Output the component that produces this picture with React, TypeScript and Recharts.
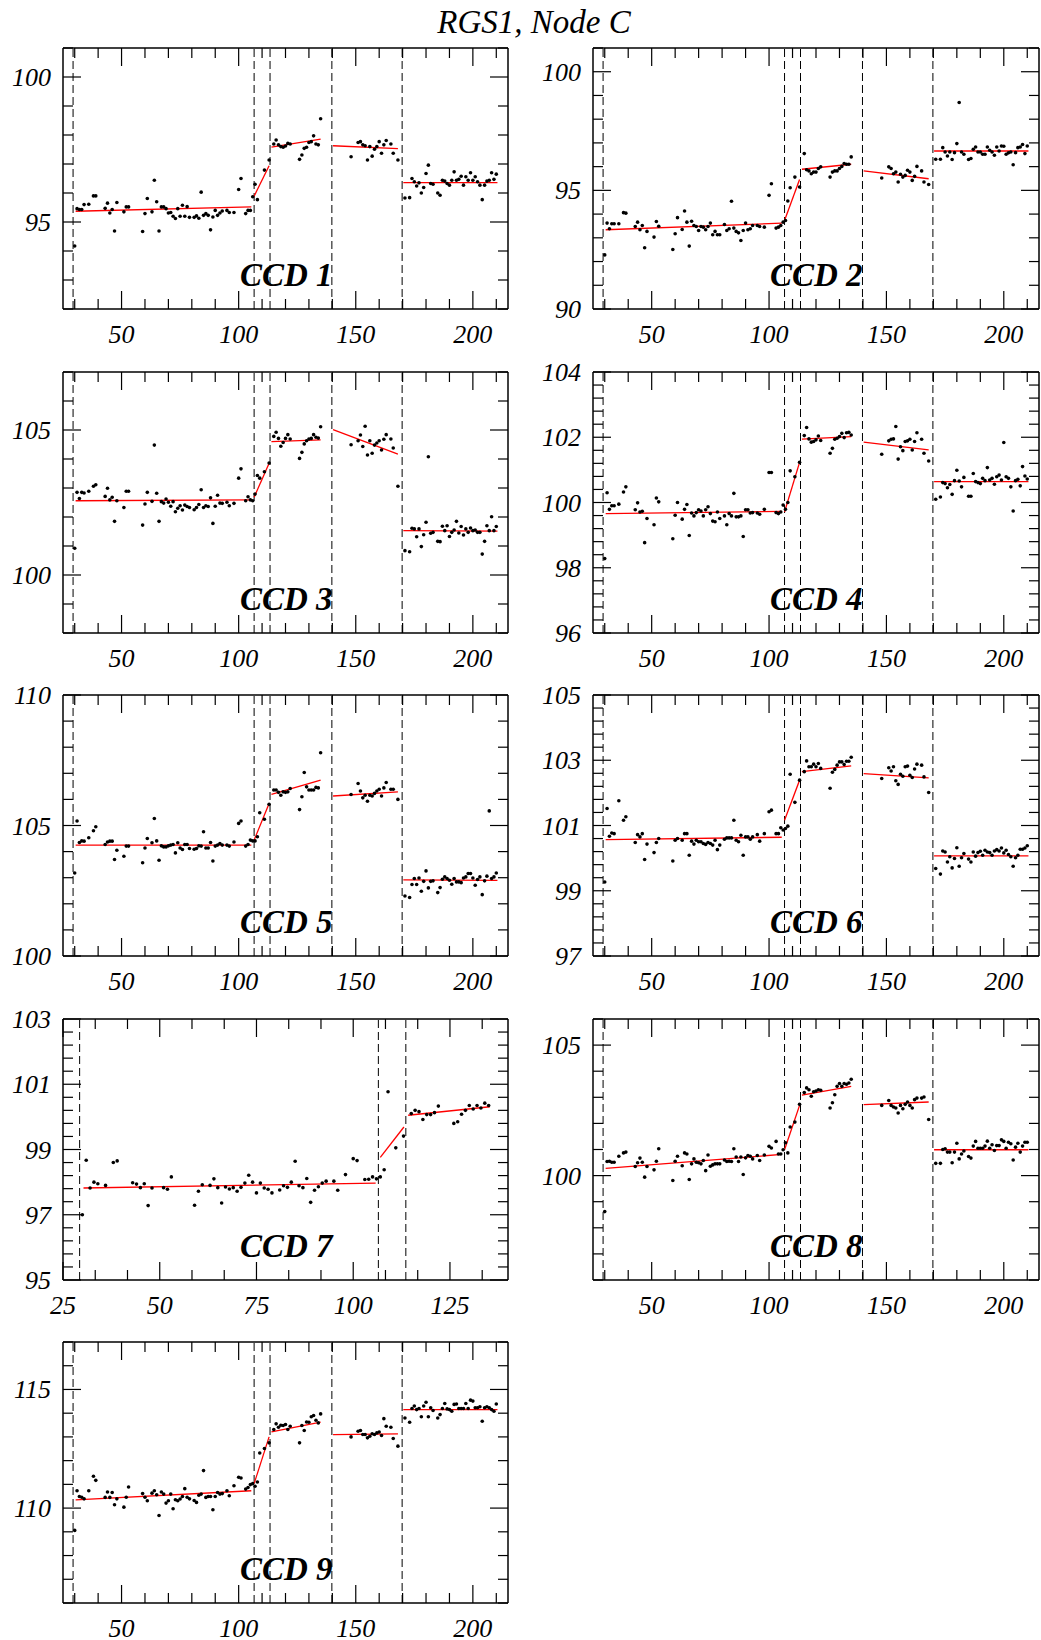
import React from 'react';
import { ComposedChart, Scatter, XAxis, YAxis, ReferenceLine } from 'recharts';

// Shared observation epochs (revolution numbers), grouped by fit segment
const revolutions = [
  30, 31, 32, 33, 34, 36, 38, 39, 43, 44, 45, 46, 47, 48, 51, 52, 53,
  59, 60, 61, 63, 64, 65, 66, 67, 68, 69, 70, 71, 72, 73, 74, 75, 76, 77, 78, 79,
  81, 82, 83, 84, 85, 86, 87, 88, 89, 90, 91, 92, 93,
  95, 96, 98, 100, 101, 103, 104, 105, 106, 107, 108,
  109, 111, 113,
  115, 116, 117, 118, 119, 120, 121, 122, 126, 127, 128, 129, 130, 131, 132, 133, 134, 135,
  148, 151, 152, 153, 154, 155, 156, 157, 158, 159, 160, 161, 162, 163, 165, 166, 168,
  171, 173, 174, 175, 176, 177, 178, 179, 180, 181,
  182, 183, 185, 186, 187, 188, 189, 190,
  191, 192, 193, 194, 195, 196, 197, 198, 199, 200,
  201, 202, 203, 204, 205, 206, 207, 208, 209, 210,
];

const ccd1Values = [
  94.17, 95.46, 95.43, 95.43, 95.6, 95.61, 95.9, 95.9, 95.47, 95.65, 95.31, 95.43, 94.69, 95.67, 95.35, 95.52, 95.52,
  94.67, 95.29, 95.81, 95.35, 96.44, 95.7, 94.69, 95.52, 95.52, 95.46, 95.31, 95.33, 95.2, 95.12, 95.46, 95.2, 95.58, 95.2, 95.53, 95.16,
  95.16, 95.21, 95.13, 96.03, 95.23, 95.29, 95.23, 94.73, 95.17, 95.4, 95.23, 95.31, 95.38,
  95.4, 95.33, 95.33, 96.12, 96.5, 95.29, 95.4, 95.4, 95.87, 96.3, 95.77,
  null, 96.79, 97.14,
  97.69, 97.83, 97.66, 97.6, 97.58, 97.62, 97.71, 97.69, 97.16, 97.31, 97.54, 97.58, 97.74, 97.77, 97.97, 97.69, 97.66, 98.56,
  97.25, 97.74, 97.77, 97.66, 97.63, 97.14, 97.6, 97.27, 97.51, 97.6, 97.77, 97.37, 97.66, 97.81, 97.69, 97.37, 97.14,
  95.83, 95.84, 96.5, 96.39, 96.24, 96.35, 96.0, 96.19, 96.67, 96.96,
  96.33, 96.3, 96.0, 95.92, 96.44, 96.41, 96.33, 96.27,
  96.44, 96.73, 96.44, 96.47, 96.58, 96.27, 96.56, 96.44, 96.7, 96.44,
  96.56, 96.39, 96.27, 95.77, 96.27, 96.41, 96.44, 96.7, 96.47, 96.65,
];

const ccd2Values = [
  92.28, 93.62, 93.38, 93.59, 93.59, 93.59, 94.06, 94.04, 93.48, 93.66, 93.34, 93.52, 92.58, 93.27, 93.03, 93.69, 93.49,
  92.51, 93.17, 93.85, 93.35, 94.13, 93.66, 92.65, 93.7, 93.52, 93.48, 93.31, 93.48, 93.45, 93.34, 93.48, 93.62, 93.13, 93.27, 93.13, 93.13,
  93.56, 93.31, 93.38, 94.54, 93.41, 93.27, 93.21, 92.89, 93.31, 93.62, 93.34, 93.38, 93.52,
  93.52, 93.48, 93.45, 94.79, 95.28, 93.41, 93.45, 93.52, 93.66, 93.73, 94.55,
  95.11, 95.56, 95.14,
  96.55, 95.87, 95.82, 95.7, 95.77, 95.77, 95.92, 95.99, 95.56, 95.77, 95.82, 95.82, 95.92, 96.01, 96.13, 96.1, 96.1, 96.41,
  95.52, 95.99, 95.92, 95.7, 95.77, 95.35, 95.68, 95.56, 95.63, 95.85, 95.77, 95.42, 95.59, 96.01, 95.82, 95.35, 95.25,
  96.31, 96.31, 96.8, 96.62, 96.45, 96.62, 96.3, 96.59, 96.97, 98.7,
  96.62, 96.52, 96.3, 96.34, 96.73, 96.83, 96.62, 96.62,
  96.52, 96.52, 96.83, 96.69, 96.62, 96.48, 96.83, 96.66, 96.87, 96.86,
  96.52, 96.58, 96.62, 96.08, 96.59, 96.8, 96.83, 96.93, 96.55, 96.87,
];

const ccd3Values = [
  100.92, 102.85, 102.64, 102.85, 102.83, 102.89, 103.06, 103.11, 102.71, 102.99, 102.59, 102.68, 101.85, 102.56, 102.33, 102.89, 102.89,
  101.72, 102.45, 102.85, 102.54, 104.48, 102.82, 101.85, 102.53, 102.48, 102.62, 102.51, 102.37, 102.53, 102.18, 102.3, 102.39, 102.24, 102.41, 102.36, 102.33,
  102.25, 102.33, 102.43, 102.94, 102.33, 102.39, 102.36, 102.66, 101.78, 102.37, 102.75, 102.48, 102.47,
  102.51, 102.39, 102.47, 103.34, 103.66, 102.56, 102.7, 102.59, 102.56, 102.79, 103.43,
  103.34, 103.56, 103.86,
  104.78, 104.92, 104.71, 104.44, 104.57, 104.71, 104.84, 104.69, 104.02, 104.23, 104.52, 104.63, 104.69, 104.71, 104.84, 104.75, 104.72, 105.11,
  104.49, 104.63, 104.83, 104.43, 105.13, 104.14, 104.63, 104.2, 104.48, 104.55, 104.63, 104.31, 104.68, 104.84, 104.69, 104.38, 103.06,
  100.84, 100.8, 101.61, 101.59, 101.32, 101.59, 100.98, 101.39, 101.82, 104.08,
  101.44, 101.47, 101.16, 101.15, 101.68, 101.53, 101.7, 101.33,
  101.47, 101.55, 101.85, 101.45, 101.67, 101.38, 101.59, 101.47, 101.62, 101.53,
  101.55, 101.47, 101.47, 100.72, 101.16, 101.7, 101.53, 102.01, 101.53, 101.67,
];

const ccd4Values = [
  98.28, 100.3, 99.79, 99.9, 99.9, 99.95, 100.32, 100.48, 99.78, 99.99, 99.71, 99.73, 98.77, 99.51, 99.32, 100.14, 100.02,
  98.89, 99.61, 100.0, 99.49, 99.79, 99.94, 98.99, 99.68, 99.59, 99.69, 99.78, 99.74, 99.59, 99.78, 99.87, 99.66, 99.43, 99.41, 99.71, 99.51,
  99.59, 99.32, 99.66, 99.59, 100.28, 99.56, 99.56, 99.59, 98.96, 99.78, 99.78, 99.68, 99.69,
  99.68, 99.64, 99.79, 100.92, 100.92, 99.69, 99.66, 99.71, 99.92, 99.79, 100.0,
  100.97, 100.79, 101.23,
  102.05, 102.3, 101.95, 101.85, 101.87, 101.92, 102.04, 101.9, 101.51, 101.66, 101.94, 101.97, 102.02, 102.12, 101.99, 102.14, 102.15, 102.07,
  101.48, 101.89, 101.94, 101.95, 102.33, 101.33, 101.71, 101.59, 101.87, 101.89, 101.94, 101.61, 101.87, 102.14, 101.94, 101.51, 101.27,
  100.1, 100.17, 100.61, 100.58, 100.45, 100.55, 100.25, 100.67, 100.99, 100.66,
  100.48, 100.77, 100.19, 100.19, 100.89, 100.64, 100.61, 100.58,
  100.74, 100.67, 101.07, 100.69, 100.74, 100.56, 100.79, 100.84, 100.69, 101.84,
  100.79, 100.74, 100.48, 99.74, 100.67, 100.71, 100.51, 101.1, 100.81, 100.72,
];

const ccd5Values = [
  103.18, 105.17, 104.35, 104.41, 104.4, 104.53, 104.8, 104.95, 104.27, 104.37, 104.4, 104.4, 103.7, 104.05, 103.82, 104.21, 104.21,
  103.57, 104.14, 104.5, 104.34, 105.27, 104.41, 103.67, 104.22, 104.18, 104.18, 104.22, 104.25, 104.27, 103.95, 104.34, 104.14, 104.08, 104.27, 104.27, 104.12,
  104.09, 104.12, 104.22, 104.21, 104.76, 104.14, 104.14, 104.35, 103.64, 104.21, 104.25, 104.31, 104.25,
  104.25, 104.21, 104.37, 105.08, 105.17, 104.21, 104.27, 104.44, 104.41, 104.41, 104.57,
  105.49, 105.24, 105.81,
  106.36, 106.36, 106.27, 106.16, 106.29, 106.27, 106.29, 106.42, 105.61, 106.1, 107.03, 106.48, 106.36, 106.36, 106.36, 106.46, 106.44, 107.79,
  106.19, 106.61, 106.32, 106.06, 106.16, 105.93, 106.16, 106.13, 106.23, 106.32, 106.39, 106.13, 106.44, 106.65, 106.39, 106.39, 106.0,
  102.3, 102.24, 102.74, 102.97, 102.74, 102.99, 102.48, 102.86, 103.26, 102.61,
  102.86, 102.88, 102.43, 102.62, 102.94, 103.03, 102.97, 102.9,
  102.75, 102.97, 102.84, 102.84, 102.81, 102.99, 103.03, 103.16, 103.16, 102.99,
  102.71, 102.93, 103.03, 102.35, 102.88, 103.06, 105.56, 102.97, 103.03, 103.18,
];

const ccd6Values = [
  99.27, 101.52, 100.67, 100.77, 100.75, 101.76, 101.16, 101.27, 100.48, 100.72, 100.65, 100.75, 99.96, 100.43, 100.17, 100.48, 100.6,
  99.91, 100.55, 100.6, 100.55, 100.75, 100.75, 100.09, 100.52, 100.43, 100.55, 100.5, 100.5, 100.45, 100.42, 100.48, 100.45, 100.4, 100.55, 100.26, 100.4,
  100.58, 100.62, 100.62, 100.62, 101.16, 100.55, 100.5, 100.7, 100.09, 100.65, 100.65, 100.58, 100.65,
  100.72, 100.52, 100.75, 101.42, 101.47, 100.75, 100.75, 100.93, 100.86, 100.91, 100.98,
  102.57, 101.71, 102.39,
  102.65, 102.98, 102.8, 102.8, 102.88, 102.8, 102.9, 102.75, 102.14, 102.63, 102.72, 102.85, 102.95, 102.95, 102.87, 102.97, 102.97, 103.09,
  102.44, 102.77, 102.67, 102.8, 102.37, 102.26, 102.57, 102.51, 102.8, 102.82, 102.54, 102.47, 102.73, 102.88, 102.85, 102.49, 102.01,
  99.68, 99.51, 100.22, 100.19, 99.88, 100.04, 99.7, 99.99, 100.32, 99.75,
  100.01, 100.14, 99.97, 99.88, 100.19, 100.06, 100.17, 100.21,
  100.09, 100.24, 100.19, 100.17, 100.09, 100.22, 100.26, 100.22, 100.31, 100.16,
  100.24, 100.11, 100.04, 99.75, 100.01, 100.09, 100.27, 100.27, 100.31, 100.38,
];

const ccd7Values = [
  97.0, 98.67, 97.82, 98.0, 97.95, 97.9, 98.6, 98.65, 97.98, 97.94, 97.83, 97.95, 97.28, 97.82, 97.83, 97.78, 98.16,
  97.29, 97.72, 97.92, 97.9, 98.1, 97.83, 97.36, 97.85, 97.79, 97.83, 97.72, 97.84, 97.97, 98.21, 98.0, 97.67, 97.97, 97.82, 97.78, 97.67,
  97.76, 97.89, 97.84, 98.0, 98.64, 97.89, 97.83, 98.11, 97.38, 97.75, 97.86, 97.97, 98.03,
  98.03, 97.75, 98.23, 98.72, 98.66, 98.08, 98.09, 98.16, 98.1, 98.16, 98.38,
  100.77, 99.05, 99.41,
  100.1, 100.2, 100.16, 99.92, 100.07, 100.07, 100.13, 100.33, 99.8, 99.85, 100.08, 100.2, 100.35, 100.24, 100.35, 100.27, 100.42, 100.35,
];

const ccd8Values = [
  98.62, 100.54, 100.55, 100.51, 100.51, 100.74, 100.87, 100.9, 100.35, 100.49, 100.67, 100.51, 99.94, 100.35, 100.22, 100.55, 101.03,
  99.81, 100.55, 100.74, 100.38, 100.87, 100.83, 99.85, 100.45, 100.64, 100.51, 100.49, 100.45, 100.58, 100.19, 100.79, 100.36, 100.41, 100.45, 100.45, 100.45,
  100.6, 100.54, 100.55, 100.54, 101.03, 100.71, 100.54, 100.71, 100.04, 100.68, 100.77, 100.74, 100.64,
  100.77, 100.58, 100.79, 101.12, 101.06, 101.31, 100.83, 100.83, 100.99, 101.26, 100.87,
  101.86, 102.05, 102.73,
  103.18, 103.36, 103.29, 103.04, 103.21, 103.24, 103.29, 103.27, 102.59, 102.79, 103.1, 103.42, 103.53, 103.42, 103.53, 103.5, 103.55, 103.69,
  102.69, 102.88, 102.69, 102.63, 102.59, 102.4, 102.69, 102.56, 102.73, 102.82, 102.69, 102.59, 102.91, 102.97, 102.97, 103.01, 102.15,
  100.47, 100.47, 101.0, 101.03, 100.9, 100.9, 100.49, 100.9, 101.24, 100.64,
  100.83, 100.94, 100.73, 100.67, 101.13, 101.31, 101.05, 101.05,
  101.05, 101.13, 101.32, 101.05, 101.18, 100.96, 101.15, 101.15, 101.37, 101.31,
  101.05, 101.28, 101.22, 100.6, 101.09, 101.24, 100.9, 101.13, 101.28, 101.28,
];

const ccd9Values = [
  109.06, 110.73, 110.49, 110.46, 110.39, 110.73, 111.34, 111.17, 110.45, 110.68, 110.45, 110.66, 110.14, 110.39, 110.04, 110.46, 110.89,
  110.61, 110.46, 110.31, 110.63, 110.73, 110.56, 109.69, 110.68, 110.59, 110.21, 110.31, 110.59, 109.97, 110.35, 110.31, 110.38, 110.49, 110.82, 110.46, 110.39,
  110.32, 110.24, 110.54, 110.59, 111.58, 110.45, 110.49, 110.49, 109.93, 110.49, 110.66, 110.59, 110.61,
  110.73, 110.52, 110.94, 111.3, 111.27, 110.8, 110.87, 110.99, 111.03, 110.92, 111.1,
  112.32, 112.51, 112.75,
  113.31, 113.55, 113.41, 113.49, 113.48, 113.52, 113.31, 113.45, 112.75, 113.48, 113.27, 113.63, 113.62, 113.85, 113.9, 113.7, 113.59, 113.97,
  113.0, 113.24, 113.27, 113.1, 113.1, 112.96, 113.03, 113.13, 113.1, 113.17, 113.21, 113.06, 113.77, 113.45, 113.41, 112.93, 112.61,
  113.8, 113.62, 114.2, 114.3, 114.15, 114.2, 113.85, 114.3, 114.46, 113.85,
  114.23, 114.11, 113.8, 113.94, 114.2, 114.41, 114.18, 114.15,
  114.08, 114.37, 114.39, 114.2, 114.2, 114.2, 114.41, 114.2, 114.55, 114.51,
  114.23, 114.23, 114.27, 113.66, 114.23, 114.27, 114.23, 114.15, 114.08, 114.39,
];

// Linear fit segments: x extents (shared) and [start y, end y] per CCD
const fitSpans = [[30.4, 105.4], [106.6, 113], [114, 135], [140.3, 168], [170.3, 210.5]];
const ccd7FitSpans = [[30.3, 105.8], [107, 113.1], [114.2, 135.3]];
const ccd1Fits = [[95.37, 95.52], [95.89, 96.94], [97.58, 97.86], [97.63, 97.53], [96.36, 96.36]];
const ccd2Fits = [[93.34, 93.62], [93.73, 95.46], [95.89, 96.1], [95.82, 95.49], [96.66, 96.66]];
const ccd3Fits = [[102.56, 102.59], [102.68, 103.85], [104.6, 104.66], [105.01, 104.17], [101.53, 101.51]];
const ccd4Fits = [[99.66, 99.73], [99.71, 101.23], [101.94, 102.02], [101.85, 101.61], [100.64, 100.64]];
const ccd5Fits = [[104.25, 104.25], [104.44, 105.84], [106.19, 106.74], [106.13, 106.29], [102.92, 102.9]];
const ccd6Fits = [[100.57, 100.64], [101.16, 102.39], [102.65, 102.83], [102.59, 102.46], [100.07, 100.07]];
const ccd7Fits = [[97.82, 97.97], [98.76, 99.69], [100.05, 100.31]];
const ccd8Fits = [[100.28, 100.81], [100.99, 102.69], [103.08, 103.42], [102.72, 102.82], [100.99, 100.99]];
const ccd9Fits = [[110.35, 110.73], [111.03, 113.0], [113.21, 113.62], [113.1, 113.13], [114.15, 114.15]];

// Boundaries (dashed vertical lines)
const boundaries = [29.3, 106.6, 113.4, 139.8, 169.8];
const ccd7Boundaries = [29.3, 106.5, 113.6];

// Tick labels
const xMajorWide = [50, 100, 150, 200];
const xMajorCcd7 = [25, 50, 75, 100, 125];

const title = 'RGS1, Node C';

const FONT = "'Liberation Serif', 'DejaVu Serif', 'Times New Roman', serif";
const ROW_TOPS = [48, 372, 695, 1019, 1342];
const COL_LEFTS = [63, 593];
const COL_WIDTHS = [445, 446];
const PLOT_H = 261;
const MAJOR_LEN = 18;
const MINOR_LEN = 10;

function tickRange(start, end, step) {
  const out = [];
  for (let i = 0; ; i++) {
    const v = start + i * step;
    if (v > end + 1e-6) break;
    out.push(Math.round(v * 10000) / 10000);
  }
  return out;
}

const isMajor = (v, majors) => majors.some((m) => Math.abs(m - v) < 1e-6);

const panels = [
  { label: 'CCD 1', vals: ccd1Values, fits: ccd1Fits, spans: fitSpans, bounds: boundaries, xDomain: [25, 215], xMajor: xMajorWide, xTickStart: 30, xStep: 10, yDomain: [92, 101], yMajor: [95, 100], yStep: 1, row: 0, col: 0 },
  { label: 'CCD 2', vals: ccd2Values, fits: ccd2Fits, spans: fitSpans, bounds: boundaries, xDomain: [25, 215], xMajor: xMajorWide, xTickStart: 30, xStep: 10, yDomain: [90, 101], yMajor: [90, 95, 100], yStep: 1, row: 0, col: 1 },
  { label: 'CCD 3', vals: ccd3Values, fits: ccd3Fits, spans: fitSpans, bounds: boundaries, xDomain: [25, 215], xMajor: xMajorWide, xTickStart: 30, xStep: 10, yDomain: [98, 107], yMajor: [100, 105], yStep: 1, row: 1, col: 0 },
  { label: 'CCD 4', vals: ccd4Values, fits: ccd4Fits, spans: fitSpans, bounds: boundaries, xDomain: [25, 215], xMajor: xMajorWide, xTickStart: 30, xStep: 10, yDomain: [96, 104], yMajor: [96, 98, 100, 102, 104], yStep: 0.4, row: 1, col: 1 },
  { label: 'CCD 5', vals: ccd5Values, fits: ccd5Fits, spans: fitSpans, bounds: boundaries, xDomain: [25, 215], xMajor: xMajorWide, xTickStart: 30, xStep: 10, yDomain: [100, 110], yMajor: [100, 105, 110], yStep: 1, row: 2, col: 0 },
  { label: 'CCD 6', vals: ccd6Values, fits: ccd6Fits, spans: fitSpans, bounds: boundaries, xDomain: [25, 215], xMajor: xMajorWide, xTickStart: 30, xStep: 10, yDomain: [97, 105], yMajor: [97, 99, 101, 103, 105], yStep: 0.4, row: 2, col: 1 },
  { label: 'CCD 7', vals: ccd7Values, fits: ccd7Fits, spans: ccd7FitSpans, bounds: ccd7Boundaries, xDomain: [25, 140], xMajor: xMajorCcd7, xTickStart: 25, xStep: 25 / 3, yDomain: [95, 103], yMajor: [95, 97, 99, 101, 103], yStep: 0.4, row: 3, col: 0 },
  { label: 'CCD 8', vals: ccd8Values, fits: ccd8Fits, spans: fitSpans, bounds: boundaries, xDomain: [25, 215], xMajor: xMajorWide, xTickStart: 30, xStep: 10, yDomain: [96, 106], yMajor: [100, 105], yStep: 1, row: 3, col: 1 },
  { label: 'CCD 9', vals: ccd9Values, fits: ccd9Fits, spans: fitSpans, bounds: boundaries, xDomain: [25, 215], xMajor: xMajorWide, xTickStart: 30, xStep: 10, yDomain: [106, 117], yMajor: [110, 115], yStep: 1, row: 4, col: 0 },
];

const noShape = () => <g />;
const dotShape = (p) => <circle cx={p.cx} cy={p.cy} r={1.8} fill="#000" />;

function Panel({ cfg }) {
  const plotW = COL_WIDTHS[cfg.col];
  const plotLeft = COL_LEFTS[cfg.col];
  const plotTop = ROW_TOPS[cfg.row];
  const ML = 63, MT = 40, MR = 2, MB = 45;
  const W = ML + plotW + MR;
  const H = MT + PLOT_H + MB;

  const points = revolutions
    .map((x, i) => ({ x, y: cfg.vals[i] }))
    .filter((p) => p.y !== null && p.y !== undefined);

  const xTicks = tickRange(cfg.xTickStart, cfg.xDomain[1], cfg.xStep);
  const yTicks = tickRange(cfg.yDomain[0], cfg.yDomain[1], cfg.yStep);

  const bottomTick = (p) => {
    const v = p.payload.value;
    const maj = isMajor(v, cfg.xMajor);
    const len = maj ? MAJOR_LEN : MINOR_LEN;
    return (
      <g>
        <line x1={p.x} y1={p.y} x2={p.x} y2={p.y - len} stroke="#000" strokeWidth={1.2} />
        {maj && (
          <text x={p.x} y={p.y + 34} textAnchor="middle" fontFamily={FONT} fontStyle="italic" fontSize={26} fill="#000">
            {Math.round(v)}
          </text>
        )}
      </g>
    );
  };
  const topTick = (p) => {
    const maj = isMajor(p.payload.value, cfg.xMajor);
    const len = maj ? MAJOR_LEN : MINOR_LEN;
    return <line x1={p.x} y1={p.y} x2={p.x} y2={p.y + len} stroke="#000" strokeWidth={1.2} />;
  };
  const leftTick = (p) => {
    const v = p.payload.value;
    const maj = isMajor(v, cfg.yMajor);
    const len = maj ? MAJOR_LEN : MINOR_LEN;
    return (
      <g>
        <line x1={p.x} y1={p.y} x2={p.x + len} y2={p.y} stroke="#000" strokeWidth={1.2} />
        {maj && (
          <text x={p.x - 12} y={p.y + 9} textAnchor="end" fontFamily={FONT} fontStyle="italic" fontSize={26} fill="#000">
            {Math.round(v)}
          </text>
        )}
      </g>
    );
  };
  const rightTick = (p) => {
    const maj = isMajor(p.payload.value, cfg.yMajor);
    const len = maj ? MAJOR_LEN : MINOR_LEN;
    return <line x1={p.x} y1={p.y} x2={p.x - len} y2={p.y} stroke="#000" strokeWidth={1.2} />;
  };

  const axisLine = { stroke: '#000', strokeWidth: 1.5 };

  return (
    <div style={{ position: 'absolute', left: plotLeft - ML, top: plotTop - MT, width: W, height: H }}>
      <ComposedChart width={W} height={H} margin={{ top: MT - 1, right: MR - 1, bottom: MB - 1, left: ML - 1 }}>
        <XAxis xAxisId="b" orientation="bottom" type="number" dataKey="x" domain={cfg.xDomain} allowDataOverflow
          ticks={xTicks} interval={0} height={1} tickSize={0} tickMargin={0} tickLine={false} axisLine={axisLine} tick={bottomTick} />
        <XAxis xAxisId="t" orientation="top" type="number" dataKey="x" domain={cfg.xDomain} allowDataOverflow
          ticks={xTicks} interval={0} height={1} tickSize={0} tickMargin={0} tickLine={false} axisLine={axisLine} tick={topTick} />
        <YAxis yAxisId="l" orientation="left" type="number" dataKey="y" domain={cfg.yDomain} allowDataOverflow
          ticks={yTicks} interval={0} width={1} tickSize={0} tickMargin={0} tickLine={false} axisLine={axisLine} tick={leftTick} />
        <YAxis yAxisId="r" orientation="right" type="number" dataKey="y" domain={cfg.yDomain} allowDataOverflow
          ticks={yTicks} interval={0} width={1} tickSize={0} tickMargin={0} tickLine={false} axisLine={axisLine} tick={rightTick} />
        {cfg.bounds.map((b) => (
          <ReferenceLine key={'b' + b} xAxisId="b" yAxisId="l" x={b} stroke="#000" strokeWidth={1} strokeDasharray="8 4" />
        ))}
        <Scatter xAxisId="t" yAxisId="r" data={points} shape={noShape} isAnimationActive={false} legendType="none" />
        {cfg.fits.map((f, i) => (
          <Scatter
            key={'f' + i}
            xAxisId="b"
            yAxisId="l"
            data={[{ x: cfg.spans[i][0], y: f[0] }, { x: cfg.spans[i][1], y: f[1] }]}
            line={{ stroke: '#ff0000', strokeWidth: 1.3 }}
            shape={noShape}
            isAnimationActive={false}
            legendType="none"
          />
        ))}
        <Scatter xAxisId="b" yAxisId="l" data={points} shape={dotShape} isAnimationActive={false} legendType="none" />
      </ComposedChart>
    </div>
  );
}

export default function App() {
  return (
    <div style={{ position: 'absolute', left: 0, top: 0, width: 1041, height: 1640, background: '#fff', overflow: 'hidden' }}>
      {panels.map((cfg) => (
        <Panel key={cfg.label} cfg={cfg} />
      ))}
      <svg width={1041} height={1640} style={{ position: 'absolute', left: 0, top: 0, pointerEvents: 'none' }}>
        <text x={534} y={33} textAnchor="middle" fontFamily={FONT} fontStyle="italic" fontSize={33} fill="#000">
          {title}
        </text>
        {panels.map((cfg) => (
          <text
            key={'lbl' + cfg.label}
            x={COL_LEFTS[cfg.col] + 177}
            y={ROW_TOPS[cfg.row] + 238}
            fontFamily={FONT}
            fontStyle="italic"
            fontWeight="bold"
            fontSize={33}
            fill="#000"
          >
            {cfg.label}
          </text>
        ))}
      </svg>
    </div>
  );
}
